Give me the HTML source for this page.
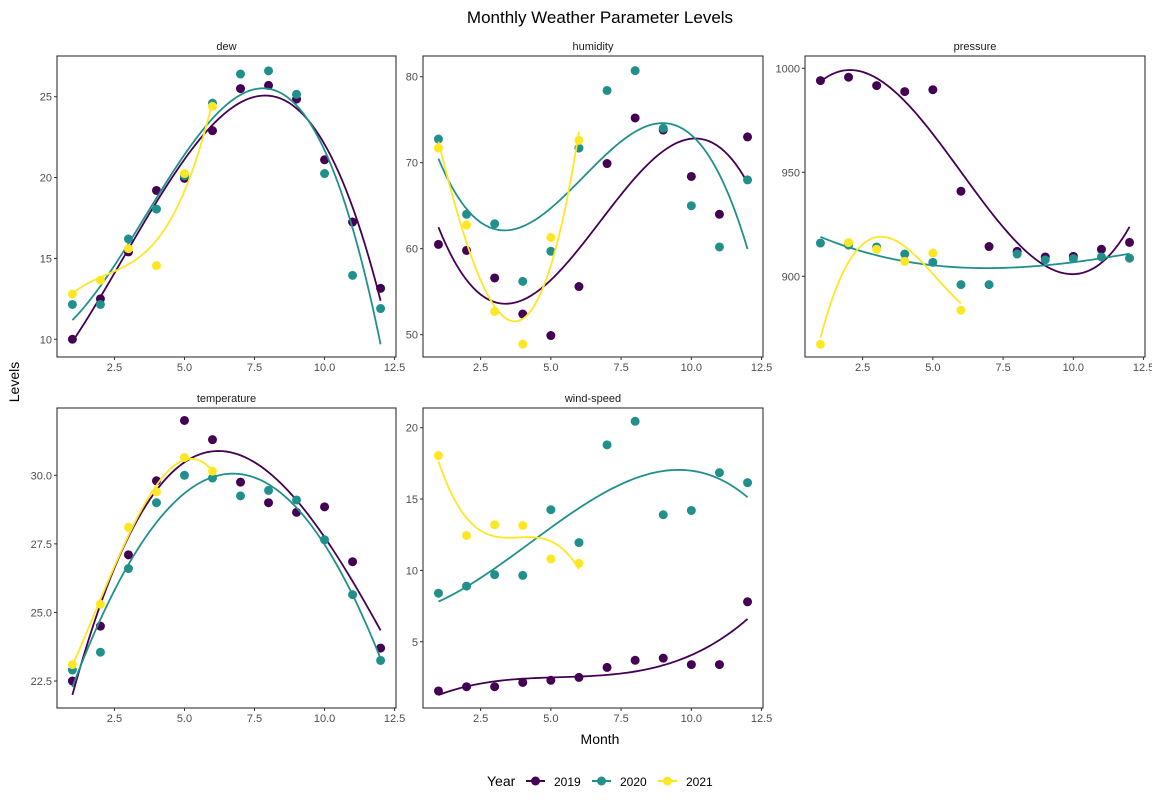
<!DOCTYPE html>
<html><head><meta charset="utf-8"><style>
body{margin:0;background:#fff;}
svg{display:block;font-family:"Liberation Sans",Arial,sans-serif;}
.tk{fill:#4d4d4d;font-size:11px;}
.strip{fill:#1a1a1a;font-size:11px;}
</style></head><body>
<svg id="c" width="1152" height="806" viewBox="0 0 1152 806">
<text x="600" y="23" text-anchor="middle" font-size="17" fill="#000">Monthly Weather Parameter Levels</text>
<text transform="translate(19,382) rotate(-90)" text-anchor="middle" font-size="14" fill="#000">Levels</text>
<text x="600" y="744" text-anchor="middle" font-size="14" fill="#000">Month</text>
<g>
<text x="487" y="786" font-size="14" fill="#000">Year</text>
<g><line x1="526" y1="781" x2="545" y2="781" stroke="#440154" stroke-width="2"/><circle cx="535.5" cy="781" r="4.5" fill="#440154"/><text x="554" y="786" font-size="12" fill="#000">2019</text></g>
<g><line x1="592" y1="781" x2="611" y2="781" stroke="#21908C" stroke-width="2"/><circle cx="601.5" cy="781" r="4.5" fill="#21908C"/><text x="620" y="786" font-size="12" fill="#000">2020</text></g>
<g><line x1="658" y1="781" x2="677" y2="781" stroke="#FDE725" stroke-width="2"/><circle cx="667.5" cy="781" r="4.5" fill="#FDE725"/><text x="686" y="786" font-size="12" fill="#000">2021</text></g>
</g>
</svg>
<script>
const months = [1,2,3,4,5,6,7,8,9,10,11,12];
const years = ["2019","2020","2021"];
const dew2019 = [10.0,12.5,15.4,19.2,19.95,22.9,25.5,25.7,24.85,21.1,17.25,13.15];
const dew2020 = [12.15,12.15,16.2,18.05,20.1,24.6,26.4,26.6,25.15,20.25,13.95,11.9];
const dew2021 = [12.8,13.65,15.6,14.55,20.25,24.4];
const hum2019 = [60.5,59.8,56.6,52.4,49.9,55.6,69.9,75.2,73.8,68.4,64.0,73.0];
const hum2020 = [72.75,64.0,62.9,56.2,59.7,71.7,78.4,80.7,74.0,65.0,60.2,68.0];
const hum2021 = [71.7,62.75,52.7,48.9,61.3,72.6];
const pres2019 = [994.1,995.7,991.7,988.8,989.7,940.9,914.3,912.0,909.3,909.6,913.0,916.3];
const pres2020 = [916.0,915.0,914.1,910.7,906.7,896.0,896.0,910.7,907.9,908.5,909.3,908.7];
const pres2021 = [867.3,916.2,913.0,907.2,911.2,883.7];
const temp2019 = [22.5,24.5,27.1,29.8,32.0,31.3,29.75,29.0,28.65,28.85,26.85,23.7];
const temp2020 = [22.9,23.55,26.6,29.0,30.0,29.9,29.25,29.45,29.1,27.65,25.65,23.25];
const temp2021 = [23.1,25.3,28.1,29.4,30.65,30.15];
const wind2019 = [1.55,1.85,1.85,2.15,2.3,2.5,3.2,3.7,3.85,3.4,3.4,7.8];
const wind2020 = [8.4,8.9,9.7,9.65,14.25,11.95,18.8,20.45,13.9,14.2,16.85,16.15];
const wind2021 = [18.05,12.45,13.2,13.15,10.8,10.5];
const xTicks = [2.5,5.0,7.5,10.0,12.5];
const xTickLabels = ["2.5","5.0","7.5","10.0","12.5"];

const colors = ["#440154","#21908C","#FDE725"];
const NS = "http://www.w3.org/2000/svg";
const svg = document.getElementById("c");
function mk(tag, attrs, parent){const e=document.createElementNS(NS,tag);for(const k in attrs)e.setAttribute(k,attrs[k]);(parent||svg).appendChild(e);return e;}

// cubic least-squares fit
function cubicFit(xs, ys){
  const m=4, n=xs.length;
  const A=[...Array(m)].map(()=>Array(m+1).fill(0));
  for(let i=0;i<n;i++){const b=[1,xs[i],xs[i]**2,xs[i]**3];
    for(let r=0;r<m;r++){A[r][m]+=b[r]*ys[i];for(let c=0;c<m;c++)A[r][c]+=b[r]*b[c];}}
  for(let i=0;i<m;i++){let p=i;for(let r=i+1;r<m;r++)if(Math.abs(A[r][i])>Math.abs(A[p][i]))p=r;[A[i],A[p]]=[A[p],A[i]];
    for(let r=0;r<m;r++){if(r===i)continue;const f=A[r][i]/A[i][i];for(let c=i;c<=m;c++)A[r][c]-=f*A[i][c];}}
  const co=A.map((r,i)=>r[m]/r[i]);
  return x=>co[0]+co[1]*x+co[2]*x*x+co[3]*x*x*x;
}

const panels = [
  {name:"dew",L:57,R:396,T:56,B:357,v0:25,p0:96.7,ppu:16.17,ticks:[10,15,20,25],tl:["10","15","20","25"],series:[dew2019,dew2020,dew2021]},
  {name:"humidity",L:423,R:763,T:56,B:357,v0:80,p0:76.7,ppu:8.6,ticks:[50,60,70,80],tl:["50","60","70","80"],series:[hum2019,hum2020,hum2021]},
  {name:"pressure",L:805,R:1145,T:56,B:357,v0:1000,p0:68.3,ppu:2.08,ticks:[900,950,1000],tl:["900","950","1000"],series:[pres2019,pres2020,pres2021]},
  {name:"temperature",L:57,R:396,T:408,B:708,v0:30,p0:475.3,ppu:27.43,ticks:[22.5,25,27.5,30],tl:["22.5","25.0","27.5","30.0"],series:[temp2019,temp2020,temp2021]},
  {name:"wind-speed",L:423,R:763,T:408,B:708,v0:20,p0:427.7,ppu:14.27,ticks:[5,10,15,20],tl:["5","10","15","20"],series:[wind2019,wind2020,wind2021]}
];

panels.forEach(p=>{
  const g=mk("g",{});
  
  
  const xs=v=>p.L+(v-0.45)*(p.R-p.L)/12.1;
  const ys=v=>p.p0-(v-p.v0)*p.ppu;
  const st=mk("text",{x:(p.L+p.R)/2,y:p.T-6,"text-anchor":"middle",class:"strip"},g);
  st.textContent=p.name;
  
  
  const ya=mk("g",{},g);
  
  
  p.ticks.forEach((t,i)=>{const y=ys(t);
    mk("line",{x1:p.L-3,x2:p.L,y1:y,y2:y,stroke:"#333"},ya);
    const tx=mk("text",{x:p.L-5,y:y+4,"text-anchor":"end",class:"tk"},ya);tx.textContent=p.tl[i];});
  const xa=mk("g",{},g);
  
  
  xTicks.forEach((t,i)=>{const x=xs(t);
    mk("line",{x1:x,x2:x,y1:p.B,y2:p.B+3,stroke:"#333"},xa);
    const tx=mk("text",{x:x,y:p.B+14,"text-anchor":"middle",class:"tk"},xa);tx.textContent=xTickLabels[i];});
  p.series.forEach((vals,si)=>{
    const mx=months.slice(0,vals.length);
    const sg=mk("g",{},g);
    
    
    vals.forEach((v,i)=>{const c=mk("circle",{cx:xs(mx[i]),cy:ys(v),r:4.5,fill:colors[si]},sg);
      
      });
    const f=cubicFit(mx,vals);
    let d="";const a=mx[0],b=mx[mx.length-1];
    for(let k=0;k<=80;k++){const x=a+(b-a)*k/80;d+=(k?"L":"M")+xs(x).toFixed(2)+","+ys(f(x)).toFixed(2);}
    const ln=mk("path",{d:d,fill:"none",stroke:colors[si],"stroke-width":1.8},sg);
    
    
  });
  const fr=mk("rect",{x:p.L,y:p.T,width:p.R-p.L,height:p.B-p.T,fill:"none",stroke:"#333","stroke-width":1.1},g);
  
  
});
</script>
</body></html>
